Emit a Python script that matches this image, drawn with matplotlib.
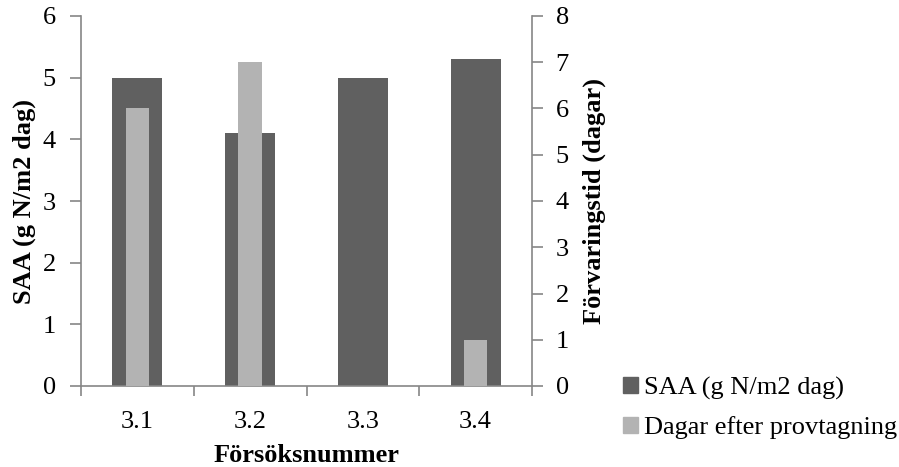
import matplotlib
matplotlib.use("Agg")
import matplotlib.pyplot as plt
import numpy as np
from matplotlib.patches import Patch

categories = ["3.1", "3.2", "3.3", "3.4"]
saa = [5.0, 4.1, 5.0, 5.3]
dagar = [6, 7, 0, 1]
left_ticks = [0, 1, 2, 3, 4, 5, 6]
right_ticks = [0, 1, 2, 3, 4, 5, 6, 7, 8]

plt.rcParams['font.family'] = ['Liberation Serif', 'DejaVu Serif']
dark = '#606060'
light = '#b3b3b3'
axc = '#868686'
fs = 19

fig = plt.figure(figsize=(8.99, 4.67), dpi=100)
ax = fig.add_axes([81/899, 1-386/467, (532-81)/899, (386-16)/467])
ax2 = ax.twinx()

x = np.arange(len(categories))
ax.bar(x, saa, width=0.445, color=dark, zorder=2)
ax2.bar(x, dagar, width=0.207, color=light, zorder=3)

ax.set_xlim(-0.5, len(categories)-0.5)
ax.set_ylim(0, 6)
ax2.set_ylim(0, 8)
ax.set_yticks(left_ticks)
ax2.set_yticks(right_ticks)

ax.set_xticks(np.arange(-0.5, len(categories)), labels=[])
ax.set_xticks(x, minor=True)
ax.set_xticklabels(categories, minor=True)
ax.tick_params(axis='x', which='minor', length=0, pad=18, labelsize=fs)
ax.tick_params(axis='x', which='major', length=7, width=1.2, color=axc, direction='out')
ax.tick_params(axis='y', length=8, width=1.2, color=axc, direction='out', labelsize=fs, pad=10)
ax2.tick_params(axis='y', length=8, width=1.2, color=axc, direction='out', labelsize=fs, pad=9)

for s in ['top', 'right']:
    ax.spines[s].set_visible(False)
for s in ['top', 'left', 'bottom']:
    ax2.spines[s].set_visible(False)
for s in ['left', 'bottom']:
    ax.spines[s].set_color(axc)
    ax.spines[s].set_linewidth(1.2)
ax2.spines['right'].set_color(axc)
ax2.spines['right'].set_linewidth(1.2)

ax.set_xlabel("Försöksnummer", fontsize=fs, fontweight='bold', labelpad=8)
ax.set_ylabel("SAA (g N/m2 dag)", fontsize=fs, fontweight='bold', labelpad=5)
ax2.set_ylabel("Förvaringstid (dagar)", fontsize=fs, fontweight='bold', labelpad=10)

handles = [Patch(color=dark, label="SAA (g N/m2 dag)"),
           Patch(color=light, label="Dagar efter provtagning")]
fig.legend(handles=handles, loc='center left', bbox_to_anchor=(623/899, 1-408/467),
           frameon=False, fontsize=fs, handlelength=0.55, handleheight=0.55,
           handletextpad=0.25, labelspacing=0.6, borderaxespad=0, borderpad=0)

fig.savefig("out.png", dpi=100)
